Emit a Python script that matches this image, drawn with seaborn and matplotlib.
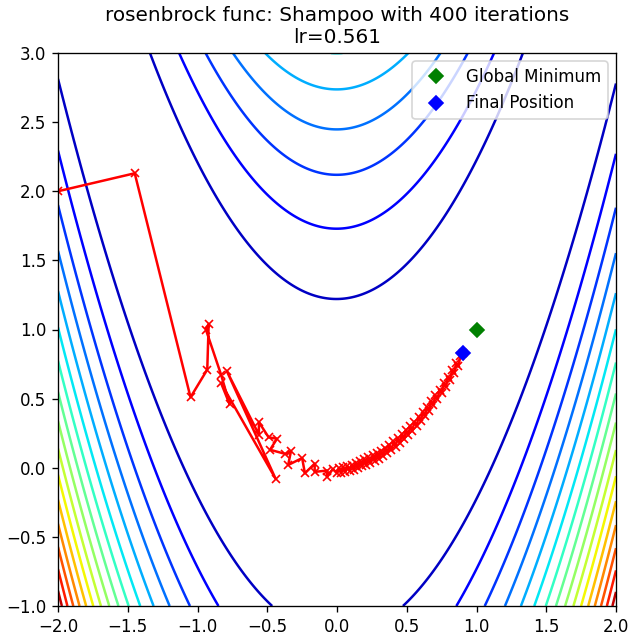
import numpy as np
import matplotlib
matplotlib.use("Agg")
import matplotlib.pyplot as plt
from matplotlib.colors import Normalize
import seaborn as sns
import pandas as pd

# Datos

# trayectoria del optimizador
path_x = [
    -2.00, -1.45, -1.05, -0.93, -0.92, -0.94, -0.83, -0.77, -0.83, -0.44,
    -0.79, -0.56, -0.56, -0.49, -0.43, -0.48, -0.37, -0.33, -0.35, -0.25,
    -0.23, -0.16, -0.16, -0.07, -0.07, -0.03,
    0.000, 0.015, 0.030, 0.045, 0.060, 0.075, 0.090, 0.105, 0.120, 0.135,
    0.150, 0.165, 0.180, 0.195, 0.210, 0.225, 0.240, 0.255, 0.270, 0.285,
    0.300, 0.315, 0.330, 0.345, 0.360, 0.375, 0.390, 0.405, 0.420, 0.435,
    0.450, 0.465, 0.480, 0.495, 0.510, 0.525, 0.540, 0.555, 0.570, 0.585,
    0.600, 0.615, 0.630, 0.645, 0.660, 0.675, 0.690, 0.705, 0.720, 0.735,
    0.750, 0.765, 0.780, 0.795, 0.810, 0.825, 0.840, 0.855, 0.870, 0.885,
    0.905,
]
path_y = [
    2.00, 2.13, 0.51, 0.71, 1.04, 1.00, 0.67, 0.46, 0.61, -0.08,
    0.70, 0.24, 0.33, 0.22, 0.21, 0.13, 0.10, 0.12, 0.02, 0.07,
    -0.04, 0.03, -0.03, -0.02, -0.065, -0.01,
    -0.040, 0.000, -0.035, 0.005, -0.030, 0.012, -0.022, 0.022, -0.015, 0.036,
    -0.005, 0.050, 0.010, 0.062, 0.022, 0.075, 0.035, 0.090, 0.050, 0.106,
    0.066, 0.124, 0.085, 0.144, 0.105, 0.166, 0.127, 0.190, 0.151, 0.215,
    0.177, 0.242, 0.205, 0.271, 0.235, 0.302, 0.266, 0.334, 0.300, 0.368,
    0.335, 0.404, 0.372, 0.442, 0.411, 0.482, 0.451, 0.523, 0.494, 0.566,
    0.538, 0.611, 0.584, 0.658, 0.632, 0.706, 0.682, 0.756, 0.733, 0.808,
    0.828,
]

global_min = (1.0, 1.0)

# niveles de contorno
contour_levels = [0, 150, 300, 450, 600, 750, 900, 1050, 1200, 1350, 1500,
                  1650, 1800, 1950, 2100, 2250, 2400, 2550]

optimizer_name = "Shampoo"
n_iter = 400
lr = 0.561

# Superficie de Rosenbrock

def rosenbrock(x, y):
    return (1 - x) ** 2 + 100 * (y - x ** 2) ** 2

x = np.linspace(-2, 2, 250)
y = np.linspace(-1, 3, 250)
X, Y = np.meshgrid(x, y)
Z = rosenbrock(X, Y)

df_path = pd.DataFrame({"x": path_x, "y": path_y})

# Gráfico

DPI = 120
fig = plt.figure(figsize=(635 / DPI, 643 / DPI), dpi=DPI)
ax = fig.add_axes([58 / 635, 1 - 606 / 643, 558 / 635, 553 / 643])

ax.contour(X, Y, Z, levels=contour_levels, cmap="jet",
           norm=Normalize(vmin=contour_levels[0], vmax=contour_levels[-1]))

sns.lineplot(data=df_path, x="x", y="y", sort=False, estimator=None,
             color="r", marker="x", markersize=4.5,
             markeredgecolor="r", markeredgewidth=1, linewidth=1.5, ax=ax)

ax.plot(*global_min, "gD", label="Global Minimum")
ax.plot(path_x[-1], path_y[-1], "bD", label="Final Position")

ax.set_xlim(-2, 2)
ax.set_ylim(-1, 3)
ax.set_xlabel("")
ax.set_ylabel("")
ax.set_title(f"rosenbrock func: {optimizer_name} with {n_iter} iterations\nlr={lr}")
ax.legend(loc="upper right")

fig.savefig("out.png", dpi=DPI)
